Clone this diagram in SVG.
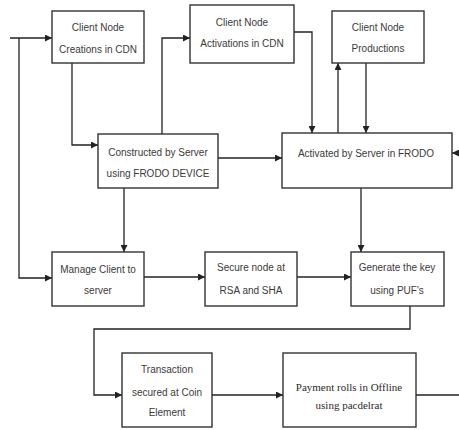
<svg xmlns="http://www.w3.org/2000/svg" width="459" height="430" viewBox="0 0 459 430">
<style>
.box{fill:#fff;stroke:#333;stroke-width:1.4}
.t{font-family:"Liberation Sans",Arial,sans-serif;font-size:10px;fill:#3a3a3a;text-anchor:middle}
.s{font-family:"Liberation Serif","Times New Roman",serif;font-size:11px;fill:#2a2a2a;text-anchor:middle}
.c{fill:none;stroke:#222;stroke-width:1.3}
</style>
<defs>
<marker id="ah" viewBox="0 0 10 10" refX="10" refY="5" markerWidth="7" markerHeight="7" markerUnits="userSpaceOnUse" orient="auto">
<path d="M0,0 L10,5 L0,10 z" fill="#222"/>
</marker>
</defs>
<rect width="459" height="430" fill="#fff"/>
<g id="connectors">
<path class="c" d="M10,38 H52" marker-end="url(#ah)"/>
<path class="c" d="M19,38 V278 H52" marker-end="url(#ah)"/>
<path class="c" d="M72,63 V145 H98" marker-end="url(#ah)"/>
<path class="c" d="M162,134 V38 H190" marker-end="url(#ah)"/>
<path class="c" d="M294,32 H312 V133" marker-end="url(#ah)"/>
<path class="c" d="M338,133 V63" marker-end="url(#ah)"/>
<path class="c" d="M366,63 V133" marker-end="url(#ah)"/>
<path class="c" d="M459,153 H452" marker-end="url(#ah)"/>
<path class="c" d="M218,158 H282" marker-end="url(#ah)"/>
<path class="c" d="M361,188 V252" marker-end="url(#ah)"/>
<path class="c" d="M124,188 V252" marker-end="url(#ah)"/>
<path class="c" d="M144,277 H205" marker-end="url(#ah)"/>
<path class="c" d="M297,277 H351" marker-end="url(#ah)"/>
<path class="c" d="M410,306 V329 H94 V395 H122" marker-end="url(#ah)"/>
<path class="c" d="M212,395 H283" marker-end="url(#ah)"/>
<path class="c" d="M416,395 H459"/>
</g>
<g id="n1"><rect class="box" x="52" y="11" width="92" height="52"/><text class="t" x="98" y="31">Client Node</text><text class="t" x="98" y="53">Creations in CDN</text></g>
<g id="n2"><rect class="box" x="190" y="5" width="104" height="58"/><text class="t" x="242" y="26">Client Node</text><text class="t" x="242" y="47">Activations in CDN</text></g>
<g id="n3"><rect class="box" x="332" y="11" width="92" height="52"/><text class="t" x="378" y="31">Client Node</text><text class="t" x="378" y="52">Productions</text></g>
<g id="n4"><rect class="box" x="98" y="134" width="120" height="54"/><text class="t" x="158" y="156">Constructed by Server</text><text class="t" x="158" y="177">using FRODO DEVICE</text></g>
<g id="n5"><rect class="box" x="282" y="133" width="170" height="55"/><text class="t" x="366" y="157">Activated by Server in FRODO</text></g>
<g id="n6"><rect class="box" x="52" y="252" width="92" height="54"/><text class="t" x="98" y="273">Manage Client to</text><text class="t" x="98" y="294">server</text></g>
<g id="n7"><rect class="box" x="205" y="252" width="92" height="54"/><text class="t" x="251" y="271">Secure node at</text><text class="t" x="251" y="294">RSA and SHA</text></g>
<g id="n8"><rect class="box" x="351" y="252" width="93" height="54"/><text class="t" x="397" y="271">Generate the key</text><text class="t" x="397" y="294">using PUF's</text></g>
<g id="n9"><rect class="box" x="122" y="353" width="90" height="74"/><text class="t" x="167" y="373">Transaction</text><text class="t" x="167" y="396">secured at Coin</text><text class="t" x="167" y="416">Element</text></g>
<g id="n10"><rect class="box" x="283" y="353" width="133" height="74"/><text class="s" x="349" y="391">Payment rolls in Offline</text><text class="s" x="349" y="409">using pacdelrat</text></g>
</svg>
